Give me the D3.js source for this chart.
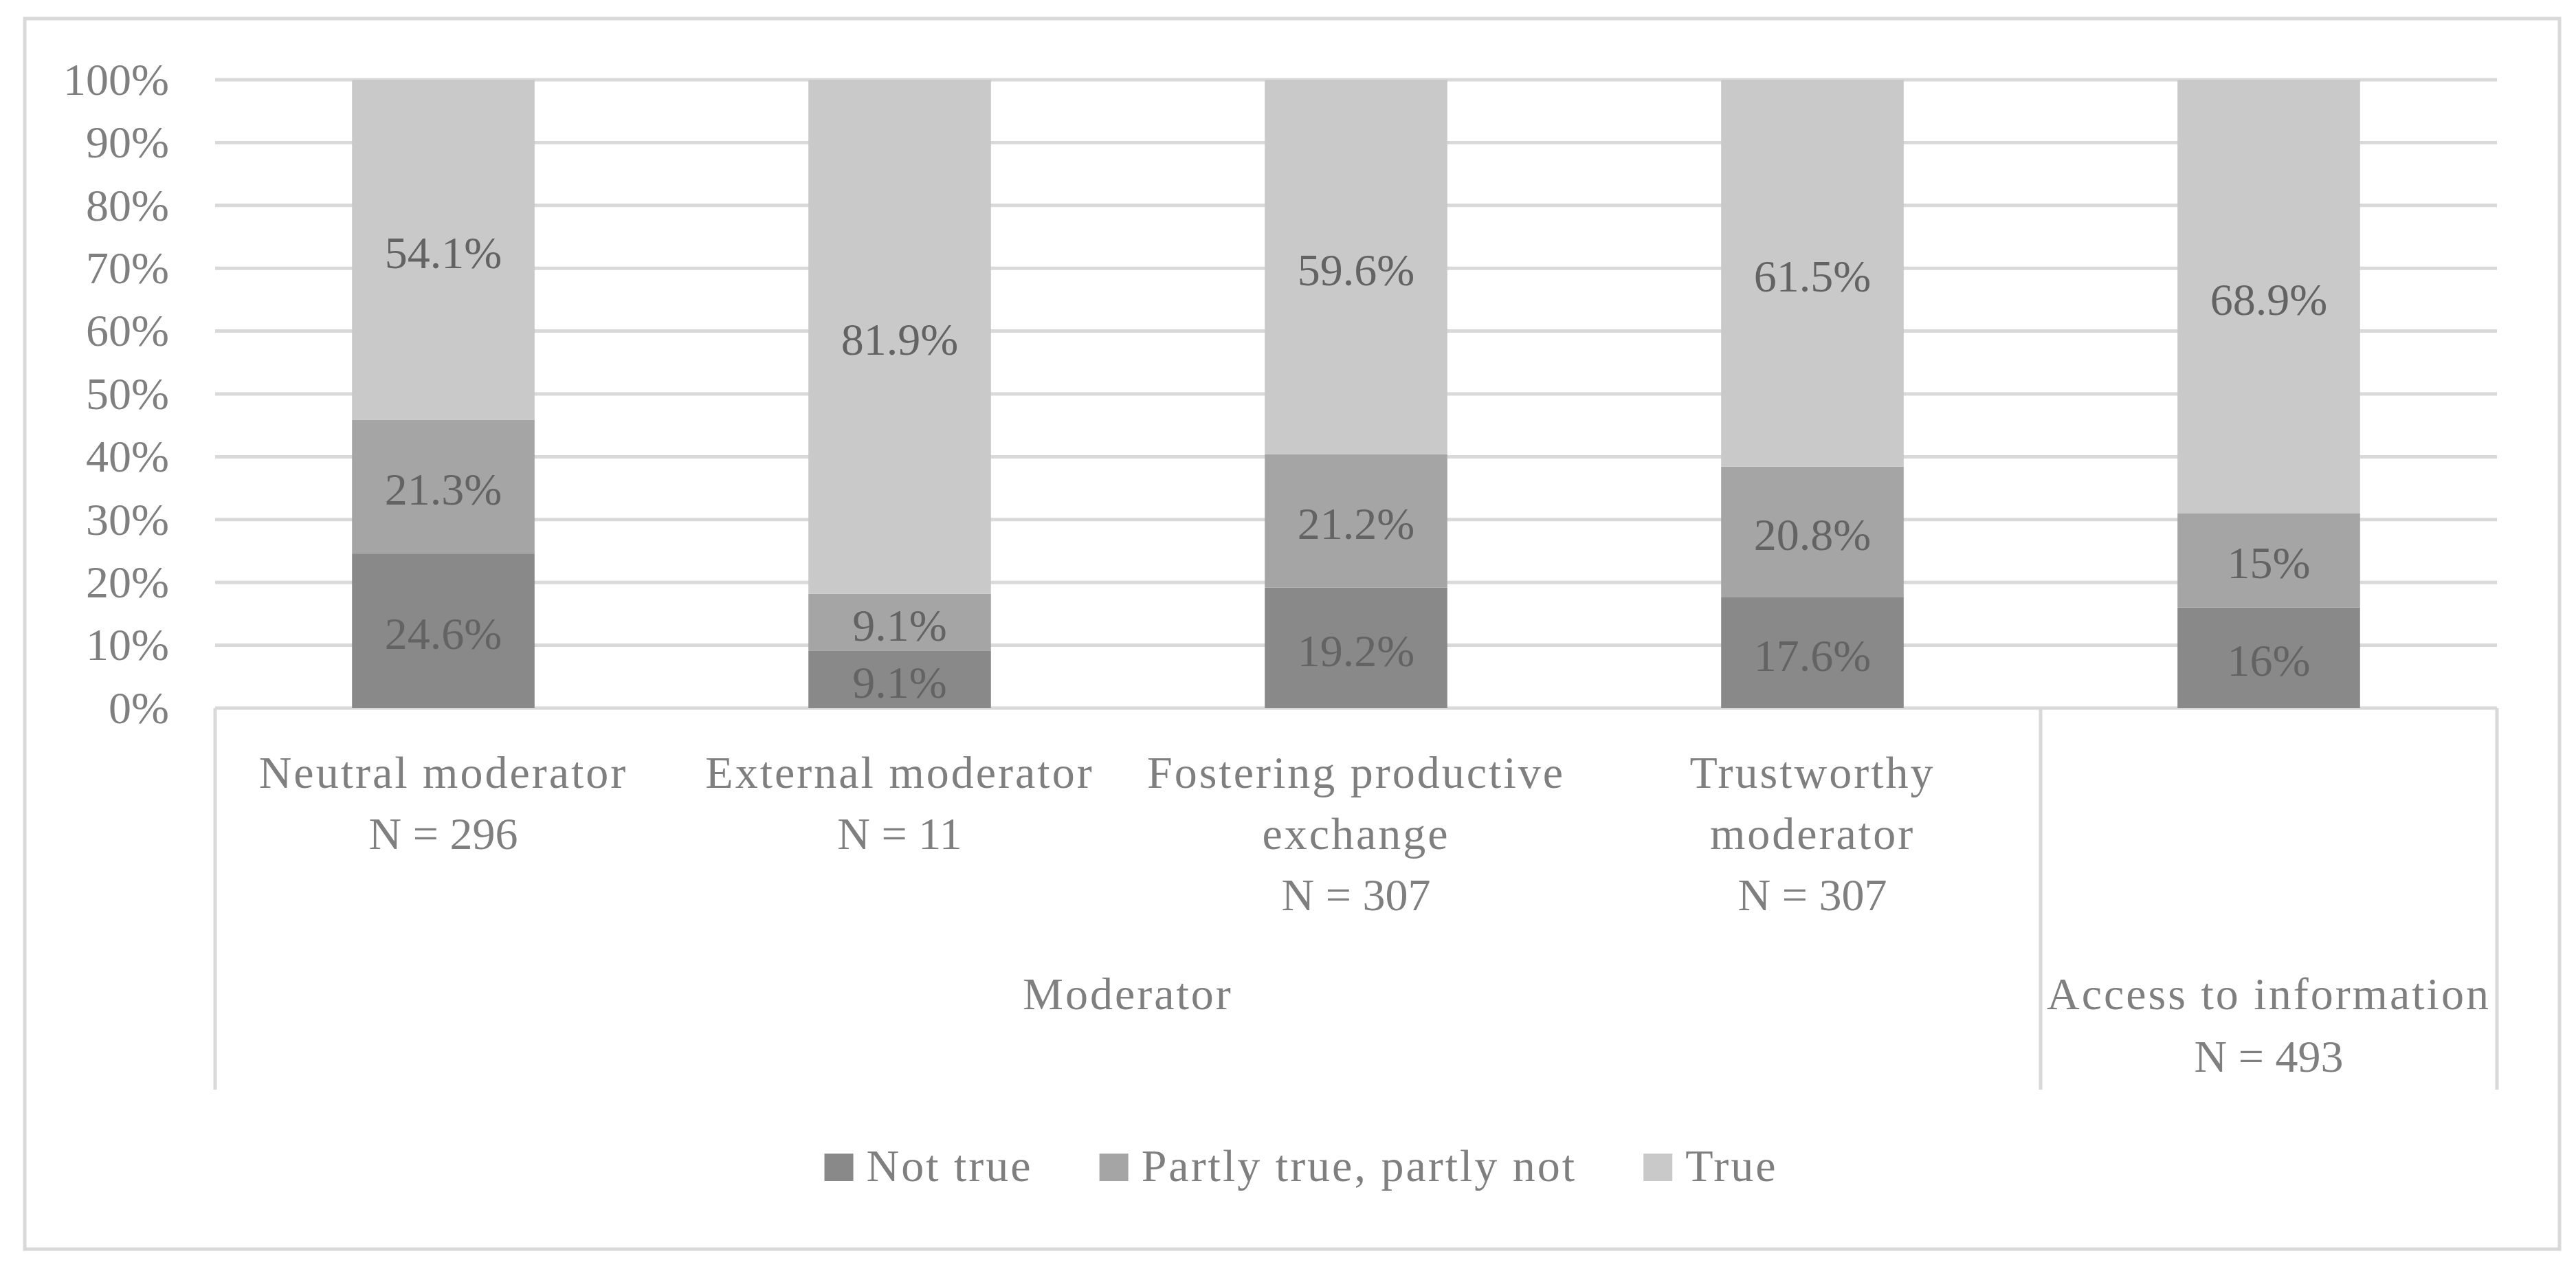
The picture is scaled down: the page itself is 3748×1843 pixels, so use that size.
<!DOCTYPE html>
<html>
<head>
<meta charset="utf-8">
<script src="https://cdn.jsdelivr.net/npm/d3@7"></script>
<style>
  html, body { margin: 0; padding: 0; background: #ffffff; }
  svg { display: block; }
  text { font-family: "Liberation Serif", "Times New Roman", serif; }
</style>
</head>
<body>
<svg id="chart" width="3748" height="1843"></svg>
<script>
// ---------- data ----------
const categoryIds = ["neutral", "external", "fostering", "trustworthy", "access"];
const categoryLabels = [
  ["Neutral moderator", "N = 296"],
  ["External moderator", "N = 11"],
  ["Fostering productive", "exchange", "N = 307"],
  ["Trustworthy", "moderator", "N = 307"],
  []
];
const groupOf = ["Moderator", "Moderator", "Moderator", "Moderator", "Access to information"];
const groupNames = ["Moderator", "Access to information"];
const groupLabels = [["Moderator"], ["Access to information", "N = 493"]];
const seriesNames = ["Not true", "Partly true, partly not", "True"];
const notTrue    = [24.6, 9.1, 19.2, 17.6, 16];
const partlyTrue = [21.3, 9.1, 21.2, 20.8, 15];
const trueVals   = [54.1, 81.9, 59.6, 61.5, 68.9];
const yTicks = [0, 0.1, 0.2, 0.3, 0.4, 0.5, 0.6, 0.7, 0.8, 0.9, 1];
const yTickLabels = ["0%", "10%", "20%", "30%", "40%", "50%", "60%", "70%", "80%", "90%", "100%"];
const seriesColors = ["#898989", "#a5a5a5", "#c9c9c9"];

// ---------- layout ----------
const W = 3748, H = 1843;
const FS = 66;
const gridColor = "#d9d9d9";
const axisText = "#7f7f7f";
const labelText = "#636363";
const plotLeft = 313, plotRight = 3633, plotTop = 116, plotBottom = 1030;
const catBottom = 1585;

const svg = d3.select("#chart");

svg.append("rect")
  .attr("x", 36).attr("y", 27)
  .attr("width", 3724 - 36).attr("height", 1817 - 27)
  .attr("fill", "#ffffff").attr("stroke", gridColor).attr("stroke-width", 5);

const x = d3.scaleBand().domain(categoryIds).range([plotLeft, plotRight])
  .paddingInner(0.6).paddingOuter(0.3);
const y = d3.scaleLinear().domain([0, 1]).range([plotBottom, plotTop]);

// gridlines
svg.append("g").selectAll("line").data(yTicks).join("line")
  .attr("x1", plotLeft).attr("x2", plotRight)
  .attr("y1", d => y(d)).attr("y2", d => y(d))
  .attr("stroke", gridColor).attr("stroke-width", 5);

// y tick labels
svg.append("g").selectAll("text").data(yTicks).join("text")
  .attr("x", 246).attr("y", d => y(d) + FS * 0.33)
  .attr("text-anchor", "end").attr("font-size", FS).attr("fill", axisText)
  .text((d, i) => yTickLabels[i]);

// stacked data
const rows = categoryIds.map((id, i) => ({
  id, s0: notTrue[i], s1: partlyTrue[i], s2: trueVals[i]
}));
const keys = ["s0", "s1", "s2"];
const stack = d3.stack().keys(keys).offset(d3.stackOffsetExpand);
const stacked = stack(rows);

const layers = svg.append("g").selectAll("g").data(stacked).join("g")
  .attr("fill", (d, i) => seriesColors[i]);
layers.selectAll("rect").data(d => d).join("rect")
  .attr("x", d => x(d.data.id))
  .attr("width", x.bandwidth())
  .attr("y", d => y(d[1]))
  .attr("height", d => y(d[0]) - y(d[1]));

// data labels
stacked.forEach((layer, li) => {
  svg.append("g").selectAll("text").data(layer).join("text")
    .attr("x", d => x(d.data.id) + x.bandwidth() / 2)
    .attr("y", d => (y(d[0]) + y(d[1])) / 2 + FS * 0.4)
    .attr("text-anchor", "middle").attr("font-size", FS).attr("fill", labelText)
    .text(d => d.data[keys[li]] + "%");
});

// category axis region
const half = x.step() * x.paddingInner() / 2;
const cellLeft = id => x(id) - half;
const vlines = [plotLeft, cellLeft("access"), plotRight];
svg.append("g").selectAll("line").data(vlines).join("line")
  .attr("x1", d => d).attr("x2", d => d)
  .attr("y1", plotBottom).attr("y2", catBottom)
  .attr("stroke", gridColor).attr("stroke-width", 5);

const lineH = 89;
categoryIds.forEach((id, i) => {
  const t = svg.append("text")
    .attr("text-anchor", "middle").attr("font-size", FS).attr("fill", axisText);
  categoryLabels[i].forEach((ln, j) => {
    t.append("tspan")
      .attr("x", x(id) + x.bandwidth() / 2)
      .attr("y", 1146 + j * lineH)
      .attr("letter-spacing", ln.startsWith("N =") ? 0 : 3)
      .text(ln);
  });
});

groupNames.forEach((g, gi) => {
  const members = categoryIds.filter((id, i) => groupOf[i] === g);
  const left = cellLeft(members[0]);
  const right = cellLeft(members[members.length - 1]) + x.step();
  const t = svg.append("text")
    .attr("text-anchor", "middle").attr("font-size", FS).attr("fill", axisText);
  groupLabels[gi].forEach((ln, j) => {
    t.append("tspan")
      .attr("x", (left + right) / 2)
      .attr("y", 1468 + j * 91)
      .attr("letter-spacing", ln.startsWith("N =") ? 0 : 3)
      .text(ln);
  });
});

// legend
const legend = svg.append("g");
const sq = 42, sqGap = 19, itemGap = 97;
let cx = 0;
const items = seriesNames.map((name, i) => {
  const g = legend.append("g");
  g.append("rect").attr("x", 0).attr("y", -40).attr("width", sq).attr("height", 40)
    .attr("fill", seriesColors[i]);
  const t = g.append("text").attr("x", sq + sqGap).attr("y", 0)
    .attr("font-size", FS).attr("fill", axisText).attr("letter-spacing", 3).text(name);
  const w = sq + sqGap + t.node().getComputedTextLength();
  g.attr("transform", `translate(${cx},0)`);
  cx += w + itemGap;
  return g;
});
const total = cx - itemGap;
legend.attr("transform", `translate(${1893 - total / 2},1718)`);
</script>
</body>
</html>
